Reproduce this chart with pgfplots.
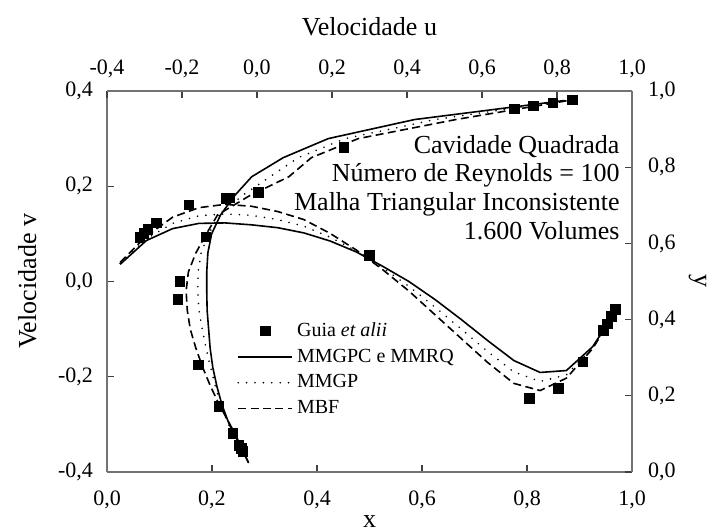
\documentclass[border=0pt]{standalone}
\usepackage{fontspec}
\setmainfont{Liberation Serif}
\usepackage{pgfplots}
\pgfplotsset{compat=1.18}
\usetikzlibrary{calc}

\pgfplotsset{
  cav/.style={
    width=262.5pt, height=190.5pt, scale only axis,
    axis line style={black!55, line width=0.6pt},
    tick style={black!75, line width=0.6pt},
    major tick length=3.5pt, tick align=inside,
    /pgf/number format/.cd, use comma, fixed, fixed zerofill, precision=1,
    assume math mode=true,
    /pgfplots/.cd,
    ticklabel style={font=\fontsize{11}{13}\selectfont},
    label style={font=\fontsize{13}{15}\selectfont},
  },
  linelegend/.style={legend image code/.code={\draw[##1] (0pt,0pt) -- (27pt,0pt);}},
  marklegend/.style={legend image code/.code={\draw[##1] plot coordinates {(13.5pt,0pt)};}},
  sol/.style={black, line width=0.8pt},
  dot/.style={black, line width=0.9pt, line cap=round, dash pattern=on 0pt off 4.2pt},
  das/.style={black, line width=0.8pt, dash pattern=on 4pt off 2.2pt},
  guia/.style={only marks, mark=square*, mark size=2.4pt, black},
}

\begin{document}
\begin{tikzpicture}
% v(x) along the horizontal centre line
\begin{axis}[cav, name=a1,
  xmin=0, xmax=1, ymin=-0.4, ymax=0.4,
  axis x line*=bottom, axis y line*=left,
  xtick={0,0.2,0.4,0.6,0.8,1}, ytick={-0.4,-0.2,0,0.2,0.4},
  xticklabel style={yshift=-6pt},
  yticklabel style={xshift=-3.5pt},
  xlabel={x}, ylabel={Velocidade v},
  xlabel style={at={(axis description cs:0.5,-0.131)}, anchor=center},
  ylabel style={at={(axis description cs:-0.152,0.5)}, anchor=center},
  legend cell align=left,
  legend style={draw=none, fill=none, at={(0.236,0.415)}, anchor=north west,
    font=\fontsize{10}{12}\selectfont, row sep=0.8pt},
]
\addplot[guia, marklegend]
  coordinates {(0.0625,0.09233) (0.0703,0.10091) (0.0781,0.10890) (0.0938,0.12317)
  (0.1563,0.16077) (0.2266,0.17507) (0.2344,0.17527) (0.5000,0.05454)
  (0.8047,-0.24533) (0.8594,-0.22445) (0.9063,-0.16914) (0.9453,-0.10313)
  (0.9531,-0.08864) (0.9609,-0.07391) (0.9688,-0.05906)};
\addlegendentry{Guia \textit{et alii}}
\addplot[sol, linelegend]
  coordinates {(0.025,0.036) (0.075,0.086) (0.125,0.111) (0.175,0.122) (0.225,0.123)
  (0.275,0.119) (0.325,0.113) (0.375,0.102) (0.425,0.085) (0.475,0.062)
  (0.525,0.032) (0.575,0.000) (0.625,-0.038) (0.675,-0.080) (0.725,-0.124)
  (0.775,-0.166) (0.825,-0.191) (0.875,-0.187) (0.925,-0.137) (0.975,-0.052)};
\addlegendentry{MMGPC e MMRQ}
\addplot[dot, linelegend]
  coordinates {(0.025,0.038) (0.075,0.090) (0.125,0.122) (0.175,0.138) (0.225,0.142)
  (0.275,0.139) (0.325,0.130) (0.375,0.116) (0.425,0.093) (0.475,0.064)
  (0.525,0.029) (0.575,-0.010) (0.625,-0.054) (0.675,-0.100) (0.725,-0.147)
  (0.775,-0.190) (0.825,-0.210) (0.875,-0.196) (0.925,-0.139) (0.975,-0.052)};
\addlegendentry{MMGP}
\addplot[das, linelegend]
  coordinates {(0.025,0.040) (0.075,0.095) (0.125,0.135) (0.175,0.155) (0.225,0.162)
  (0.275,0.158) (0.325,0.147) (0.375,0.130) (0.425,0.101) (0.475,0.066)
  (0.525,0.025) (0.575,-0.020) (0.625,-0.070) (0.675,-0.120) (0.725,-0.170)
  (0.775,-0.214) (0.825,-0.229) (0.875,-0.203) (0.925,-0.141) (0.975,-0.052)};
\addlegendentry{MBF}
\begin{scope}[font=\fontsize{13}{15}\selectfont, every node/.style={anchor=base east, inner sep=0pt}]
\node at (axis description cs:0.977,0.836) {Cavidade Quadrada};
\node at (axis description cs:0.977,0.762) {Número de Reynolds = 100};
\node at (axis description cs:0.977,0.686) {Malha Triangular Inconsistente};
\node at (axis description cs:0.977,0.609) {1.600 Volumes};
\end{scope}
\end{axis}
% u(y) along the vertical centre line
\begin{axis}[cav, name=a2,
  xmin=-0.4, xmax=1, ymin=0, ymax=1,
  axis x line*=top, axis y line*=right,
  xtick={-0.4,-0.2,0,0.2,0.4,0.6,0.8,1}, ytick={0,0.2,0.4,0.6,0.8,1},
  xticklabel style={yshift=3pt},
  yticklabel style={xshift=4.5pt},
  xlabel={Velocidade u}, ylabel={y},
  xlabel style={at={(axis description cs:0.5,1.168)}, anchor=center},
  ylabel style={at={(axis description cs:1.125,0.5)}, anchor=center, rotate=180},
]
\addplot[guia]
  coordinates {(0.84123,0.9766) (0.78871,0.9688) (0.73722,0.9609) (0.68717,0.9531)
  (0.23151,0.8516) (0.00332,0.7344) (-0.13641,0.6172) (-0.20581,0.5000)
  (-0.21090,0.4531) (-0.15662,0.2813) (-0.10150,0.1719) (-0.06434,0.1016)
  (-0.04775,0.0703) (-0.04192,0.0625) (-0.03717,0.0547)};
\addplot[sol]
  coordinates {(-0.023,0.025) (-0.048,0.075) (-0.074,0.125) (-0.093,0.175) (-0.107,0.225)
  (-0.118,0.275) (-0.125,0.325) (-0.129,0.375) (-0.133,0.425) (-0.134,0.475)
  (-0.134,0.525) (-0.131,0.575) (-0.121,0.625) (-0.097,0.675) (-0.060,0.725)
  (-0.014,0.775) (0.070,0.825) (0.190,0.875) (0.420,0.925) (0.820,0.975)};
\addplot[dot]
  coordinates {(-0.023,0.025) (-0.047,0.075) (-0.076,0.125) (-0.097,0.175) (-0.111,0.225)
  (-0.124,0.275) (-0.136,0.325) (-0.146,0.375) (-0.155,0.425) (-0.158,0.475)
  (-0.157,0.525) (-0.149,0.575) (-0.129,0.625) (-0.100,0.675) (-0.040,0.725)
  (0.035,0.775) (0.110,0.825) (0.235,0.875) (0.475,0.925) (0.825,0.975)};
\addplot[das]
  coordinates {(-0.023,0.025) (-0.046,0.075) (-0.072,0.125) (-0.100,0.175) (-0.124,0.225)
  (-0.145,0.275) (-0.163,0.325) (-0.178,0.375) (-0.186,0.425) (-0.189,0.475)
  (-0.183,0.525) (-0.163,0.575) (-0.135,0.625) (-0.105,0.675) (-0.020,0.725)
  (0.085,0.775) (0.145,0.825) (0.270,0.875) (0.530,0.925) (0.830,0.975)};
\end{axis}
\pgfresetboundingbox
\path ($(a1.south west)+(-53.5pt,-30pt)$) rectangle ($(a1.north east)+(43pt,45.5pt)$);
\end{tikzpicture}
\end{document}
